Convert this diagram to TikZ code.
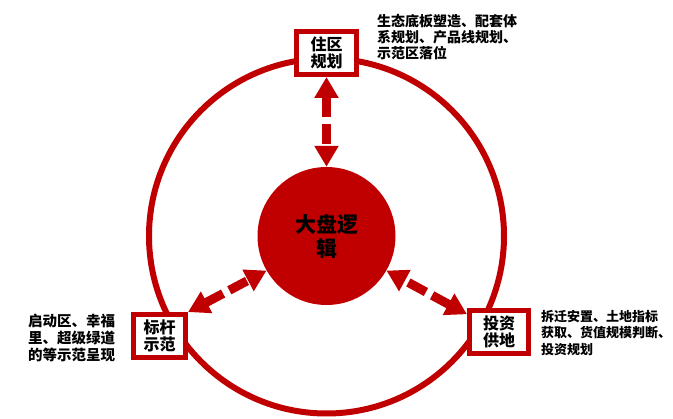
\documentclass[tikz,border=0pt]{standalone}
\usepackage{fontspec}
\setmainfont{Noto Sans CJK SC}
\usetikzlibrary{arrows.meta}
\definecolor{darkred}{HTML}{C00000}

\begin{document}
\begin{tikzpicture}[x=1pt,y=-1pt,
  box/.style = {draw=darkred, line width=5pt, fill=white, inner sep=0pt, align=center, font=\fontsize{16}{17}\selectfont\bfseries},
  note/.style = {align=left, anchor=west, inner sep=0pt},
  link/.style = {darkred, line width=9pt, dash pattern=on 20pt off 7pt, {Triangle[length=21pt,width=23pt]}-{Triangle[length=21pt,width=23pt]}}]
  \useasboundingbox (0,0) rectangle (673,419);
  % outer ring and core
  \node[circle, draw=darkred, line width=6pt, minimum size=355pt, inner sep=0pt] (ring) at (326.5,236) {};
  \node[circle, fill=darkred, minimum size=138pt, inner sep=0pt, align=center, font=\fontsize{21}{24}\selectfont\bfseries] (core) at (326.5,236) {大盘逻\\辑};
  % the three boxes
  \node[box, minimum width=60pt, minimum height=43pt] (plan) at (326.5,53) {住区\\规划};
  \node[box, minimum width=52pt, minimum height=43pt] (model) at (159.5,336) {标杆\\示范};
  \node[box, minimum width=59pt, minimum height=43pt] (supply) at (499,332) {投资\\供地};
  \draw[link] (plan.south) -- (core.north);
  \draw[link] (model.40) -- (core.210);
  \draw[link] (supply.151) -- (core.330);
  % notes
  \node[note, font=\fontsize{14}{16.3}\selectfont\bfseries] (plannote) at (377,37) {生态底板塑造、配套体\\系规划、产品线规划、\\示范区落位};
  \node[note, font=\fontsize{14.5}{16.6}\selectfont\bfseries] (modelnote) at (28,338) {启动区、幸福\\里、超级绿道\\的等示范呈现};
  \node[note, font=\fontsize{13}{16.3}\selectfont\bfseries] (supplynote) at (541,333) {拆迁安置、土地指标\\获取、货值规模判断、\\投资规划};
\end{tikzpicture}
\end{document}
